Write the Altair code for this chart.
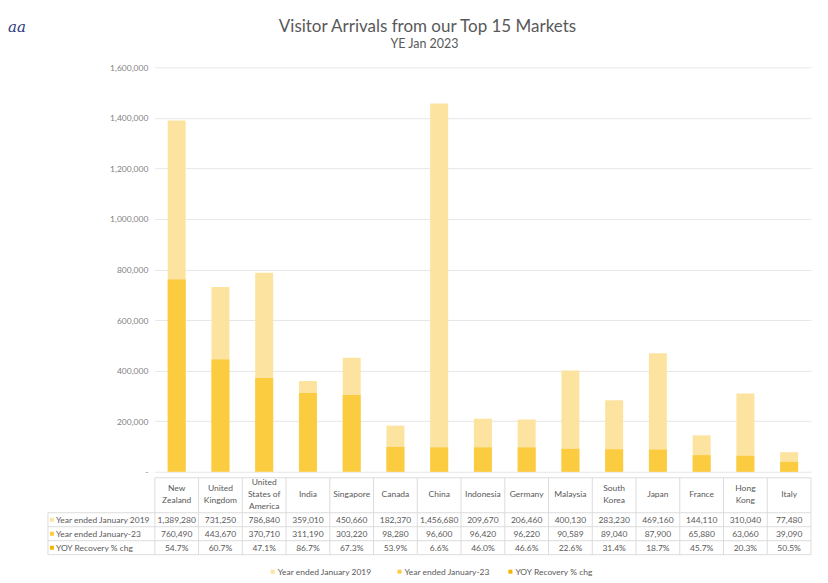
import altair as alt
import pandas as pd

# ---------------- data ----------------
markets = ["New Zealand", "United Kingdom", "United States of America", "India",
           "Singapore", "Canada", "China", "Indonesia", "Germany", "Malaysia",
           "South Korea", "Japan", "France", "Hong Kong", "Italy"]
market_labels = ["New\nZealand", "United\nKingdom", "United\nStates of\nAmerica", "India",
                 "Singapore", "Canada", "China", "Indonesia", "Germany", "Malaysia",
                 "South\nKorea", "Japan", "France", "Hong\nKong", "Italy"]
ye_2019 = [1389280, 731250, 786840, 359010, 450660, 182370, 1456680, 209670,
           206460, 400130, 283230, 469160, 144110, 310040, 77480]
ye_2023 = [760490, 443670, 370710, 311190, 303220, 98280, 96600, 96420,
           96220, 90589, 89040, 87900, 65880, 63060, 39090]
yoy_pct = [54.7, 60.7, 47.1, 86.7, 67.3, 53.9, 6.6, 46.0, 46.6, 22.6, 31.4,
           18.7, 45.7, 20.3, 50.5]
series_names = ["Year ended January 2019", "Year ended January-23", "YOY Recovery % chg"]
series_colors = ["#FDE3A0", "#FBCB40", "#F4B400"]
y_ticks = [0, 200000, 400000, 600000, 800000, 1000000, 1200000, 1400000, 1600000]

title_text = "Visitor Arrivals from our Top 15 Markets"
subtitle_text = "YE Jan 2023"

# ---------------- tables ----------------
bars_2019 = pd.DataFrame({"market": markets, "value": ye_2019})
bars_2023 = pd.DataFrame({"market": markets, "value": ye_2023})

rows = []
for m, a, b, c in zip(markets, ye_2019, ye_2023, yoy_pct):
    rows.append({"market": m, "series": series_names[0], "text": f"{a:,}"})
    rows.append({"market": m, "series": series_names[1], "text": f"{b:,}"})
    rows.append({"market": m, "series": series_names[2], "text": f"{c:.1f}%"})
table_df = pd.DataFrame(rows)
cat_df = pd.DataFrame({"market": markets, "label": market_labels})
series_df = pd.DataFrame({"series": series_names})
one = pd.DataFrame({"k": [0]})

W = 657
H_TOP = 405
H_TAB = 77
H_LEG = 24
FONT = "Lato"
TXT = "#595959"
BORDER = "#dcdcdc"
FS = 8.5

xscale = alt.Scale(domain=markets, paddingInner=0, paddingOuter=0)
cscale = alt.Scale(domain=series_names, range=series_colors)

# ---------------- top panel ----------------
yenc = alt.Y("value:Q", scale=alt.Scale(domain=[0, 1600000]),
             axis=alt.Axis(values=y_ticks, format=",d",
                           labelExpr="datum.value == 0 ? '-' : datum.label",
                           grid=True, gridColor="#e6e6e6", domain=False, ticks=False,
                           labelFontSize=8.5, labelColor="#7f7f7f", labelPadding=7,
                           labelFont=FONT, title=None))
xenc = alt.X("market:N", sort=markets, scale=xscale, axis=None)

b19 = alt.Chart(bars_2019).mark_bar(size=18, color=series_colors[0]).encode(x=xenc, y=yenc)
b23 = alt.Chart(bars_2023).mark_bar(size=18, color=series_colors[1]).encode(x=xenc, y="value:Q")

title_m = alt.Chart(one).mark_text(text=title_text, font=FONT, fontSize=17, color=TXT,
                                   align="center", baseline="middle").encode(
    x=alt.value(273), y=alt.value(-40))
sub_m = alt.Chart(one).mark_text(text=subtitle_text, font=FONT, fontSize=12.5, color=TXT,
                                 align="center", baseline="middle").encode(
    x=alt.value(270), y=alt.value(-23))
logo_m = alt.Chart(one).mark_text(text="aa", font="DejaVu Serif", fontStyle="italic",
                                  fontSize=15, color="#2b3a7e", align="left",
                                  baseline="middle").encode(
    x=alt.value(-147), y=alt.value(-40))

top = alt.layer(b19, b23, title_m, sub_m, logo_m).properties(width=W, height=H_TOP)

# ---------------- table panel ----------------
txenc = alt.X("market:N", sort=markets, scale=xscale, axis=None)
rowscale = alt.Scale(domain=series_names, range=[42, 70], padding=0)

vlines = alt.Chart(cat_df).mark_rule(color=BORDER, strokeWidth=1).encode(
    x=alt.X("market:N", sort=markets, scale=xscale, axis=None, bandPosition=0),
    y=alt.value(0), y2=alt.value(H_TAB))
vright = alt.Chart(one).mark_rule(color=BORDER).encode(
    x=alt.value(W), y=alt.value(0), y2=alt.value(H_TAB))
vleft = alt.Chart(one).mark_rule(color=BORDER).encode(
    x=alt.value(-107), y=alt.value(35), y2=alt.value(H_TAB))
hlines = [alt.Chart(one).mark_rule(color=BORDER).encode(
    x=alt.value(-107), x2=alt.value(W), y=alt.value(v)) for v in (35, 49, 63, H_TAB)]
htop = alt.Chart(one).mark_rule(color=BORDER).encode(
    x=alt.value(0), x2=alt.value(W), y=alt.value(0))

cats = alt.Chart(cat_df).transform_calculate(
    ty="16 - (length(split(datum.label, '\\n')) - 1) * 6"
).mark_text(lineBreak="\n", font=FONT, fontSize=FS, color=TXT,
            baseline="middle", lineHeight=12).encode(
    x=txenc, y=alt.Y("ty:Q", scale=None, axis=None), text="label:N")
vals = alt.Chart(table_df).mark_text(font=FONT, fontSize=FS, color=TXT,
                                     baseline="middle").encode(
    x=txenc, y=alt.Y("series:N", scale=rowscale, axis=None), text="text:N")
rowlab = alt.Chart(series_df).mark_text(font=FONT, fontSize=FS, color=TXT,
                                        align="left", baseline="middle").encode(
    x=alt.value(-99), y=alt.Y("series:N", scale=rowscale, axis=None), text="series:N")
rowsq = alt.Chart(series_df).mark_point(shape="square", filled=True, size=16, opacity=1).encode(
    x=alt.value(-103), y=alt.Y("series:N", scale=rowscale, axis=None),
    color=alt.Color("series:N", scale=cscale, legend=None))

table = alt.layer(vlines, vright, vleft, htop, *hlines, cats, vals, rowlab,
                  rowsq).properties(width=W, height=H_TAB)

# ---------------- legend panel ----------------
legend_layers = []
for name, lx in zip(series_names, (118, 245, 356)):
    d = pd.DataFrame({"series": [name]})
    legend_layers.append(alt.Chart(d).mark_point(shape="square", filled=True, size=16,
                                                 opacity=1).encode(
        x=alt.value(lx), y=alt.value(16),
        color=alt.Color("series:N", scale=cscale, legend=None)))
    legend_layers.append(alt.Chart(d).mark_text(font=FONT, fontSize=FS, color=TXT,
                                                align="left", baseline="middle").encode(
        x=alt.value(lx + 5), y=alt.value(16), text="series:N"))
legend_panel = alt.layer(*legend_layers).properties(width=W, height=H_LEG)

chart = alt.vconcat(top, table, legend_panel, spacing=0).properties(
    padding={"top": 10, "left": 0, "right": 8, "bottom": 0},
    background="white"
).configure_view(stroke=None, strokeWidth=0).configure_axis(domain=False)

chart.save("out.html", embed_options={"renderer": "svg", "actions": False})
